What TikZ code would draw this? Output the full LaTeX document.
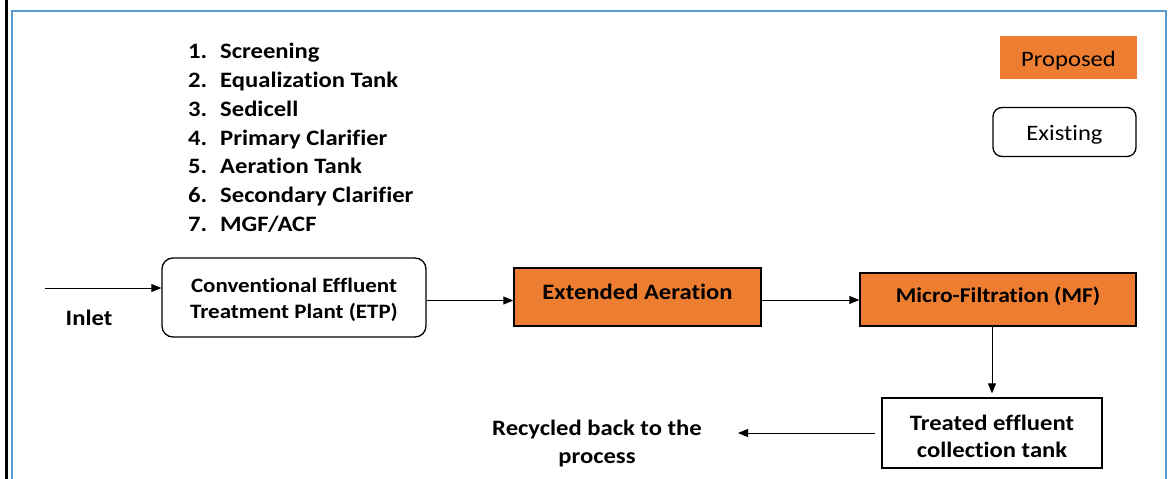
\documentclass[tikz,border=0pt]{standalone}
\usepackage{fontspec}
\setmainfont{Carlito}[Ligatures=NoCommon, FakeStretch=1.12]
\usetikzlibrary{arrows.meta,positioning}
\definecolor{procorange}{HTML}{ED7D31}
\definecolor{frameblue}{HTML}{5B9BD5}
% text set with its (last) baseline a given distance below the node centre
\newcommand{\atbase}[2]{\raisebox{#1}[0pt][0pt]{#2}}
\newcommand{\twolines}[3]{\atbase{#1}{\begin{tabular}[b]{@{}c@{}}#2\\#3\end{tabular}}}
\begin{document}
\begin{tikzpicture}[x=1pt,y=-1pt,
  txt/.style={font=\bfseries\fontsize{22}{26}\selectfont, inner sep=0pt},
  listitem/.style={txt, anchor=base west},
  existbox/.style={draw, line width=1.3pt, rounded corners=11pt, fill=white},
  propbox/.style={draw, line width=1.3pt, fill=procorange},
  flow/.style={line width=0.8pt, -{Triangle[length=10pt,width=8pt]}}]
\useasboundingbox (0,0) rectangle (1176,479);
% outer frame lines
\draw[line width=2.6pt] (6.5,-2) -- (6.5,481);
\draw[frameblue, line width=2.2pt] (12,481) -- (12,11) -- (1166,11) -- (1166,481);

% legend
\node[fill=procorange, minimum width=137pt, minimum height=43pt, inner sep=0pt,
      font=\fontsize{22}{26}\selectfont] (legprop) at (1068.5,57) {\atbase{-9pt}{Proposed}};
\node[draw, line width=1.3pt, rounded corners=9pt, minimum width=143pt, minimum height=49pt,
      inner sep=0pt, font=\fontsize{22}{26}\selectfont] (legexist) at (1064.5,132) {\atbase{-8pt}{Existing}};

% stages of the conventional ETP
\foreach \n/\t [count=\i from 0] in {1/Screening,2/Equalization Tank,3/Sedicell,4/Primary Clarifier,5/Aeration Tank,6/Secondary Clarifier,7/{MGF/ACF}}{
  \node[listitem] (num\n) at (188,{58.3+28.9*\i}) {\n.};
  \node[listitem] (item\n) at (220,{58.3+28.9*\i}) {\t};
}

% process nodes
\node[existbox, minimum width=264pt, minimum height=79pt, inner sep=0pt,
      font=\bfseries\fontsize{20.5}{26}\selectfont] (etp) at (294,297.5)
      {\twolines{-20.5pt}{Conventional Effluent}{Treatment Plant (ETP)}};
\node[propbox, minimum width=247pt, minimum height=58pt, inner sep=0pt,
      font=\bfseries\fontsize{22}{26}\selectfont] (ea) at (637.5,297) {\atbase{-2pt}{Extended Aeration}};
\node[propbox, minimum width=276pt, minimum height=53pt, inner sep=0pt,
      font=\bfseries\fontsize{21}{26}\selectfont] (mf) at (998,299.5) {\atbase{-2.5pt}{Micro-Filtration (MF)}};
\node[draw, line width=1.3pt, minimum width=220pt, minimum height=70pt, inner sep=0pt,
      font=\bfseries\fontsize{22}{27}\selectfont] (tank) at (992,433)
      {\twolines{-24pt}{Treated effluent}{collection tank}};

% free labels
\node[txt, anchor=base] (inlet) at (89,325) {Inlet};
\node[txt, font=\bfseries\fontsize{22}{28}\selectfont] (recyc) at (597,444)
      {\twolines{-19pt}{Recycled back to the}{process}};

% connectors
\coordinate (inflow) at (45,288);
\coordinate (recycend) at (738,433);
\draw[flow] (inflow) -- (inflow -| etp.west);
\draw[flow] ([yshift=-3pt]etp.east) -- ([yshift=-3pt]etp.east -| ea.west);
\draw[flow] ([yshift=-3pt]ea.east) -- ([yshift=-3pt]ea.east -| mf.west);
\draw[flow, shorten >=4pt] (mf.south -| tank.north) -- (tank.north);
\draw[flow, shorten <=6pt] (tank.west) -- (recycend);
\end{tikzpicture}
\end{document}
